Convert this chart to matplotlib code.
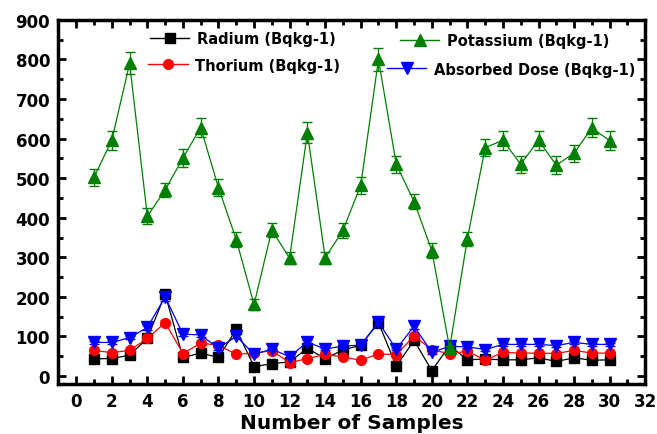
#!/usr/bin/python3

import matplotlib
matplotlib.use('Agg')
import matplotlib.pyplot as plt
from matplotlib.legend import Legend
from matplotlib.lines import Line2D
from matplotlib.ticker import MultipleLocator

plt.rcParams['font.family'] = 'DejaVu Sans'
plt.rcParams['font.weight'] = 'bold'

samples = list(range(1, 31))

radium = [44, 44, 53, 95, 207, 47, 58, 47, 118, 24, 31, 36, 70, 44, 66, 78, 135, 25, 90, 14,
          77, 41, 43, 41, 41, 46, 37, 46, 40, 41]
radium_err = [3, 3, 3, 4, 11, 3, 3, 3, 4, 2, 2, 2, 4, 3, 3, 4, 6, 2, 5, 1,
              3, 3, 3, 3, 3, 3, 3, 3, 3, 3]

thorium = [65, 59, 65, 95, 135, 57, 83, 78, 55, 58, 64, 34, 44, 55, 48, 40, 56, 54, 101, 67,
           56, 63, 40, 60, 58, 58, 57, 65, 58, 58]
thorium_err = [4, 4, 4, 5, 7, 3, 5, 4, 3, 3, 4, 2, 3, 3, 3, 3, 3, 3, 6, 4,
               3, 3, 3, 4, 4, 4, 4, 4, 4, 4]

potassium = [502, 596, 790, 404, 470, 551, 628, 476, 345, 181, 369, 298, 615, 299, 368, 482, 800, 535, 441, 317,
             71, 347, 577, 596, 535, 596, 533, 563, 627, 595]
potassium_err = [22, 24, 28, 20, 18, 22, 25, 22, 18, 13, 18, 16, 26, 15, 18, 22, 28, 22, 20, 18,
                 6, 18, 22, 24, 22, 24, 22, 22, 24, 24]

absorbed = [85, 85, 97, 123, 200, 106, 104, 70, 101, 55, 68, 49, 86, 68, 76, 78, 136, 68, 126, 60,
            75, 74, 67, 80, 80, 80, 77, 85, 80, 80]
absorbed_err = [4, 4, 4, 6, 10, 5, 5, 4, 5, 3, 3, 3, 4, 3, 4, 4, 7, 3, 8, 3,
                4, 4, 3, 4, 4, 4, 4, 4, 4, 4]

fig = plt.figure(figsize=(6.57, 4.35), dpi=100)
ax = fig.add_axes([0.089, 0.115, 0.893, 0.837])

ax.errorbar(samples, radium, yerr=radium_err, color='black', marker='s', ms=6.5, lw=0.9,
            capsize=3.5, elinewidth=0.9)
ax.errorbar(samples, thorium, yerr=thorium_err, color='red', marker='o', ms=7, lw=0.9,
            capsize=3.5, elinewidth=0.9)
ax.errorbar(samples, absorbed, yerr=absorbed_err, color='blue', marker='v', ms=8.5, lw=0.9,
            capsize=3.5, elinewidth=0.9, zorder=3)
ax.errorbar(samples, potassium, yerr=potassium_err, color='green', marker='^', ms=9, lw=0.9,
            capsize=3.5, elinewidth=0.9, zorder=4)

ax.set_xlim(-1, 32)
ax.set_ylim(-20, 900)
ax.xaxis.set_major_locator(MultipleLocator(2))
ax.xaxis.set_minor_locator(MultipleLocator(1))
ax.yaxis.set_major_locator(MultipleLocator(100))
ax.yaxis.set_minor_locator(MultipleLocator(50))

ax.tick_params(which='both', direction='in', top=True, right=True, width=2)
ax.tick_params(which='major', length=6, labelsize=12, pad=6)
ax.tick_params(which='minor', length=3.5)
for lab in ax.get_xticklabels() + ax.get_yticklabels():
    lab.set_fontweight('bold')
for sp in ax.spines.values():
    sp.set_linewidth(2.5)

ax.set_xlabel('Number of Samples', fontsize=14.5, fontweight='bold', labelpad=2)

# the legend entries in the original are not on a neat grid, so each one is placed by itself
entries = [
    (Line2D([], [], color='black', marker='s', ms=6.5, lw=1), 'Radium (Bqkg-1)', (0.156, 0.948)),
    (Line2D([], [], color='red', marker='o', ms=7, lw=1), 'Thorium (Bqkg-1)', (0.153, 0.876)),
    (Line2D([], [], color='green', marker='^', ms=9, lw=1), 'Potassium (Bqkg-1)', (0.582, 0.942)),
    (Line2D([], [], color='blue', marker='v', ms=8.5, lw=1), 'Absorbed Dose (Bqkg-1)', (0.560, 0.865)),
]
for h, lab, pos in entries:
    leg = Legend(ax, [h], [lab], loc='center left', bbox_to_anchor=pos, frameon=False,
                 prop={'size': 10.5, 'weight': 'bold'}, handlelength=2.7,
                 handletextpad=0.5, borderpad=0, borderaxespad=0)
    ax.add_artist(leg)

plt.savefig('out.png', dpi=100)
